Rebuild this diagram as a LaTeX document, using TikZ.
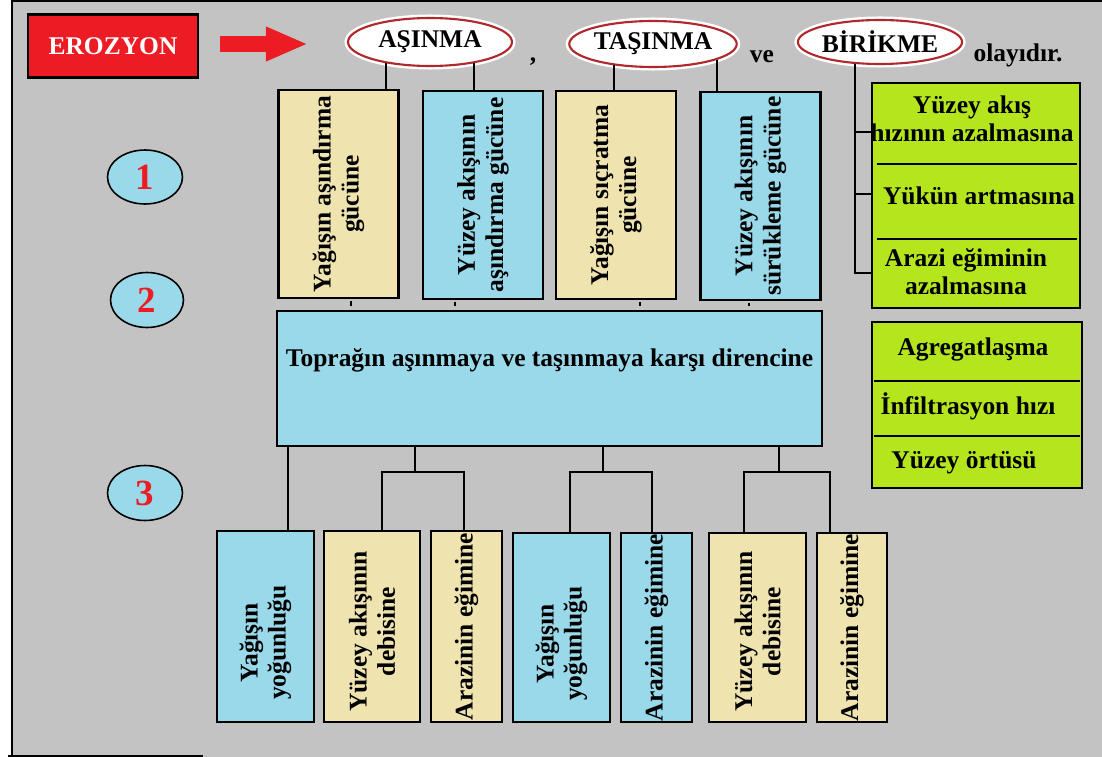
\documentclass[tikz,border=0pt]{standalone}
\usepackage{fontspec}
\setmainfont{Liberation Serif}
\usetikzlibrary{arrows.meta, positioning, calc, shapes.geometric}
\definecolor{pgray}{HTML}{C3C3C3}
\definecolor{pred}{HTML}{ED1C24}
\definecolor{pdarkred}{HTML}{B0282C}
\definecolor{pblue}{HTML}{99D9EA}
\definecolor{ptan}{HTML}{EFE4B0}
\definecolor{plime}{HTML}{B5E61D}

\tikzset{
  bigfont/.style={font=\fontsize{14.5}{16}\selectfont\bfseries},
  box/.style={draw=black, line width=1.2pt, inner sep=0pt, align=center, bigfont},
  vbox/.style={box, rotate=90},
  vtext/.style={rotate=90, align=center, inner sep=0pt, bigfont},
  limebox/.style={draw=black, line width=1.2pt, fill=plime},
  limetext/.style={align=center, inner sep=0pt, bigfont},
  divider/.style={draw=black, line width=0.6pt},
  procell/.style={ellipse, draw=pdarkred, line width=1.2pt, fill=white,
    preaction={draw=white, line width=4pt}, inner sep=0pt, bigfont},
  stepell/.style={ellipse, draw=black, line width=0.9pt, fill=pblue, inner sep=0pt,
    text=pred, font=\fontsize{21}{21}\selectfont\bfseries},
  plain/.style={inner sep=0pt, bigfont},
  link/.style={draw=black, line width=1.2pt},
  bigarrow/.style={draw=pred, line width=9.6pt, -{Triangle[length=24pt, width=18pt]}},
}

\begin{document}
\begin{tikzpicture}[x=0.02cm, y=-0.02cm]
  \useasboundingbox (0,0) rectangle (1102,757);

  %% Frame
  \fill[pgray] (11,0) rectangle (1102,757);
  \draw[line width=1.2pt] (1102,1) -- (12,1) -- (12,756);
  \draw[line width=1.2pt] (8,756) -- (203,756);

  %% Title line
  \node[box, fill=pred, text=white, minimum width=3.4cm, minimum height=1.26cm] (erozyon) at (113,46) {EROZYON};
  \draw[bigarrow] ($(erozyon.east)+(21,-2)$) -- ++(88,0);
  \node[procell, minimum width=3.28cm, minimum height=0.96cm] (asinma) at (430,42) {AŞINMA};
  \node[procell, minimum width=3.22cm, minimum height=0.92cm] (tasinma) at (653,44) {TAŞINMA};
  \node[procell, minimum width=3.2cm, minimum height=0.88cm] (birikme) at (880,42) {BİRİKME};
  \node[plain, anchor=base] (virgul) at (533,62) {,};
  \node[plain, anchor=base] (ve) at (762,63) {ve};
  \node[plain, anchor=base] (olay) at (1018,62) {olayıdır.};

  %% Step numbers
  \node[stepell, minimum width=1.5cm, minimum height=1.08cm] (s1) at (145,177) {1};
  \node[stepell, minimum width=1.46cm, minimum height=1.1cm] (s2) at (147,300) {2};
  \node[stepell, minimum width=1.5cm, minimum height=1.1cm] (s3) at (145,493) {3};

  %% Row 1
  \node[vbox, fill=ptan, minimum width=4.16cm, minimum height=2.4cm] (b1) at (338.5,194) {Yağışın aşındırma\\gücüne};
  \node[vbox, fill=pblue, minimum width=4.16cm, minimum height=2.4cm] (b2) at (483,195) {Yüzey akışının\\aşındırma gücüne};
  \node[vbox, fill=ptan, minimum width=4.16cm, minimum height=2.4cm] (b3) at (616,195) {Yağışın sıçratma\\gücüne};
  \node[vbox, fill=pblue, minimum width=4.16cm, minimum height=2.4cm] (b4) at (760.5,196) {Yüzey akışının\\sürükleme gücüne};
  \draw[link] (asinma.206) -- (asinma.206 |- b1.east);
  \draw[link] (asinma.334) -- (asinma.334 |- b2.east);
  \draw[link] (tasinma.209) -- (tasinma.209 |- b3.east);
  \draw[link] (tasinma.346) -- (tasinma.346 |- b4.east);

  %% Row 2
  \node[box, fill=pblue, minimum width=10.9cm, minimum height=2.7cm,
    label={[plain, yshift=0.36cm]center:Toprağın aşınmaya ve taşınmaya karşı direncine}] (direnc) at (549.5,378.5) {};
  \foreach \bn/\bx in {b1/351, b2/455, b3/640, b4/749}{
    \draw[link, shorten <=1pt, shorten >=2pt] (\bx,0 |- \bn.west) -- (\bx,0 |- direnc.north);
  }

  %% Row 3
  \node[vbox, fill=pblue, minimum width=3.82cm, minimum height=1.94cm] (c1) at (265.5,626.5) {};
  \node[vtext] (c1t) at ($(c1.center)+(0,16)$) {Yağışın\\yoğunluğu};
  \node[vbox, fill=ptan, minimum width=3.82cm, minimum height=1.92cm] (c2) at (372,626.5) {};
  \node[vtext] (c2t) at ($(c2.center)+(0,5)$) {Yüzey akışının\\debisine};
  \node[vbox, fill=ptan, minimum width=3.82cm, minimum height=1.42cm] (c3) at (466.5,626.5) {Arazinin eğimine};
  \node[vbox, fill=pblue, minimum width=3.78cm, minimum height=1.94cm] (c4) at (561.5,627.5) {};
  \node[vtext] (c4t) at ($(c4.center)+(0,16)$) {Yağışın\\yoğunluğu};
  \node[vbox, fill=pblue, minimum width=3.78cm, minimum height=1.42cm] (c5) at (656.5,627.5) {Arazinin eğimine};
  \node[vbox, fill=ptan, minimum width=3.78cm, minimum height=1.94cm] (c6) at (757.5,627.5) {};
  \node[vtext] (c6t) at ($(c6.center)+(0,4)$) {Yüzey akışının\\debisine};
  \node[vbox, fill=ptan, minimum width=3.78cm, minimum height=1.40cm] (c7) at (852,627.5) {Arazinin eğimine};
  \draw[link] (direnc.south -| 288,0) -- (288,0 |- c1.east);
  \foreach \jn/\jx/\ln/\lx/\rn/\rx in {1/415/c2/382/c3/464, 2/603/c4/570/c5/652, 3/779/c6/744/c7/830}{
    \coordinate (j\jn) at (\jx,472);
    \draw[link] (direnc.south -| j\jn) -- (j\jn);
    \draw[link] (\lx,0 |- \ln.east) |- (j\jn) -| (\rx,0 |- \rn.east);
  }

  %% Birikme factors
  \node[limebox, minimum width=4.16cm, minimum height=4.5cm] (g1) at (976,195.5) {};
  \node[limetext] (g1a) at (972,119) {Yüzey akış\\hızının azalmasına};
  \node[limetext] (g1b) at (979,196) {Yükün artmasına};
  \node[limetext] (g1c) at (966,272) {Arazi eğiminin\\azalmasına};
  \draw[divider] (877,164) -- (1077,164);
  \draw[divider] (877,239) -- (1077,239);
  \draw[link] (birikme.221) |- (g1.west |- 0,273);
  \draw[link] (birikme.221 |- 0,132) -- (g1.west |- 0,132);
  \draw[link] (birikme.221 |- 0,194) -- (g1.west |- 0,194);

  %% Resistance factors
  \node[limebox, minimum width=4.2cm, minimum height=3.32cm] (g2) at (977,405) {};
  \node[limetext] (g2a) at (973,349) {Agregatlaşma};
  \node[limetext] (g2b) at (968,406) {İnfiltrasyon hızı};
  \node[limetext] (g2c) at (964,463) {Yüzey örtüsü};
  \draw[divider] (874,381) -- (1080,381);
  \draw[divider] (874,436) -- (1080,436);

\end{tikzpicture}
\end{document}
